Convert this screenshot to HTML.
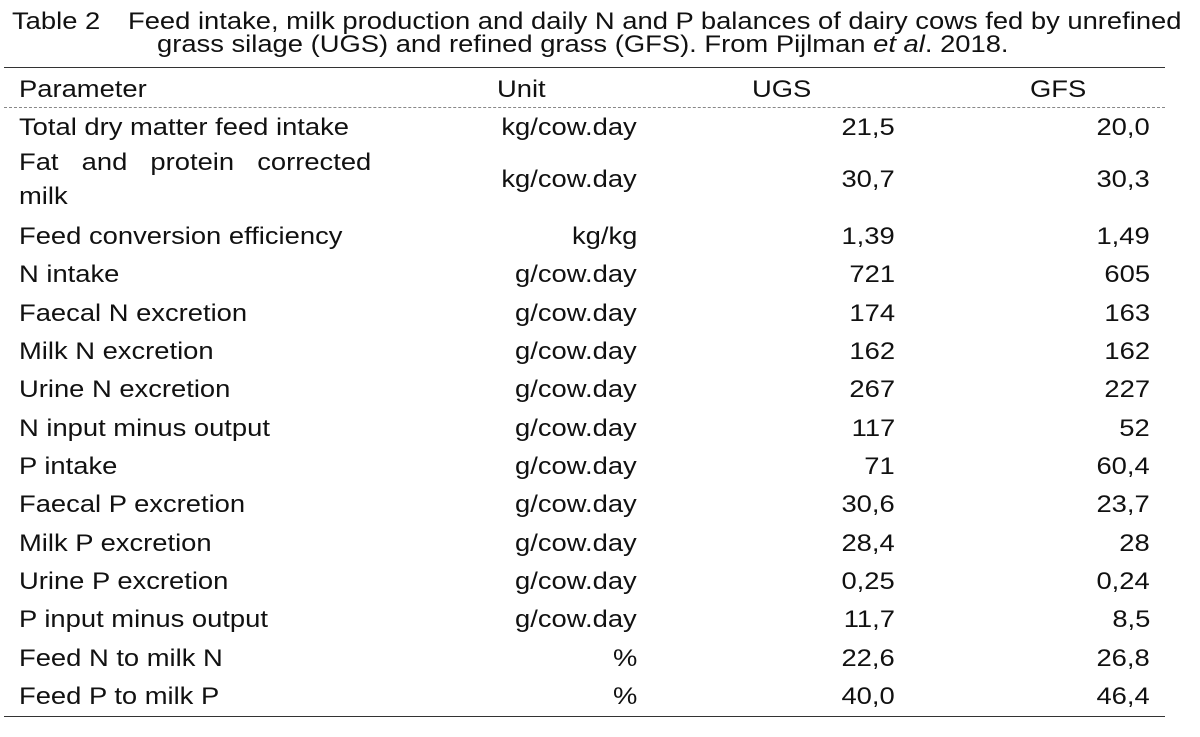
<!DOCTYPE html>
<html><head><meta charset="utf-8"><style>
body{margin:0;width:1200px;height:737px;background:#fff;overflow:hidden;font-family:"Liberation Sans",Arial,sans-serif;color:#111;font-size:24px;}
.a{position:absolute;white-space:nowrap;line-height:1;transform:scaleX(1.14);transform-origin:left center;}
.r{text-align:right;transform-origin:right center;}
.rule{position:absolute;left:4px;width:1161px;height:0;}
</style></head><body>
<div class="a" style="left:12px;top:10px;">Table 2</div>
<div class="a" style="left:128px;top:10px;">Feed intake, milk production and daily N and P balances of dairy cows fed by unrefined</div>
<div class="a" style="left:157px;top:33px;">grass silage (UGS) and refined grass (GFS). From Pijlman <i>et al</i>. 2018.</div>
<div class="rule" style="top:67px;border-top:1.5px solid #333;"></div>
<div class="a" style="left:19px;top:78px;">Parameter</div>
<div class="a" style="left:497px;top:78px;">Unit</div>
<div class="a" style="left:752px;top:78px;">UGS</div>
<div class="a" style="left:1030px;top:78px;">GFS</div>
<div class="rule" style="top:107px;border-top:1px dashed #888;"></div>
<div id="rows"></div>
<div class="rule" style="top:716px;border-top:1.5px solid #333;"></div>
<script>
const params=["Total dry matter feed intake","Fat and protein corrected milk","Feed conversion efficiency","N intake","Faecal N excretion","Milk N excretion","Urine N excretion","N input minus output","P intake","Faecal P excretion","Milk P excretion","Urine P excretion","P input minus output","Feed N to milk N","Feed P to milk P"];
const units=["kg/cow.day","kg/cow.day","kg/kg","g/cow.day","g/cow.day","g/cow.day","g/cow.day","g/cow.day","g/cow.day","g/cow.day","g/cow.day","g/cow.day","g/cow.day","%","%"];
const ugs=["21,5","30,7","1,39","721","174","162","267","117","71","30,6","28,4","0,25","11,7","22,6","40,0"];
const gfs=["20,0","30,3","1,49","605","163","162","227","52","60,4","23,7","28","0,24","8,5","26,8","46,4"];
const centers=[128,180,237,275,314,352,390,429,467,505,544,582,620,659,697];
const host=document.getElementById('rows');
function cell(txt,left,right,cy,name){
  const d=document.createElement('div');
  d.className='a'+(right?' r':'');
  
  
  d.textContent=txt;
  d.style.top=(cy-12)+'px';
  if(right){d.style.right=(1200-right)+'px';}else{d.style.left=left+'px';}
  host.appendChild(d);
}
params.forEach((p,i)=>{
  const cy=centers[i];
  if(i===1){
    const d=document.createElement('div');
    
    
    d.style.cssText='position:absolute;left:19px;top:'+(cy-34)+'px;width:309px;line-height:34px;transform:scaleX(1.14);transform-origin:left center;white-space:normal;';
    d.innerHTML='<span style="display:block;text-align:justify;text-align-last:justify;">Fat and protein corrected</span>milk';
    host.appendChild(d);
  } else cell(p,19,0,cy,'parameter-label');
  cell(units[i],0,637,cy,'unit-cell');
  cell(ugs[i],0,895,cy,'ugs-value');
  cell(gfs[i],0,1150,cy,'gfs-value');
});
</script>
</body></html>
